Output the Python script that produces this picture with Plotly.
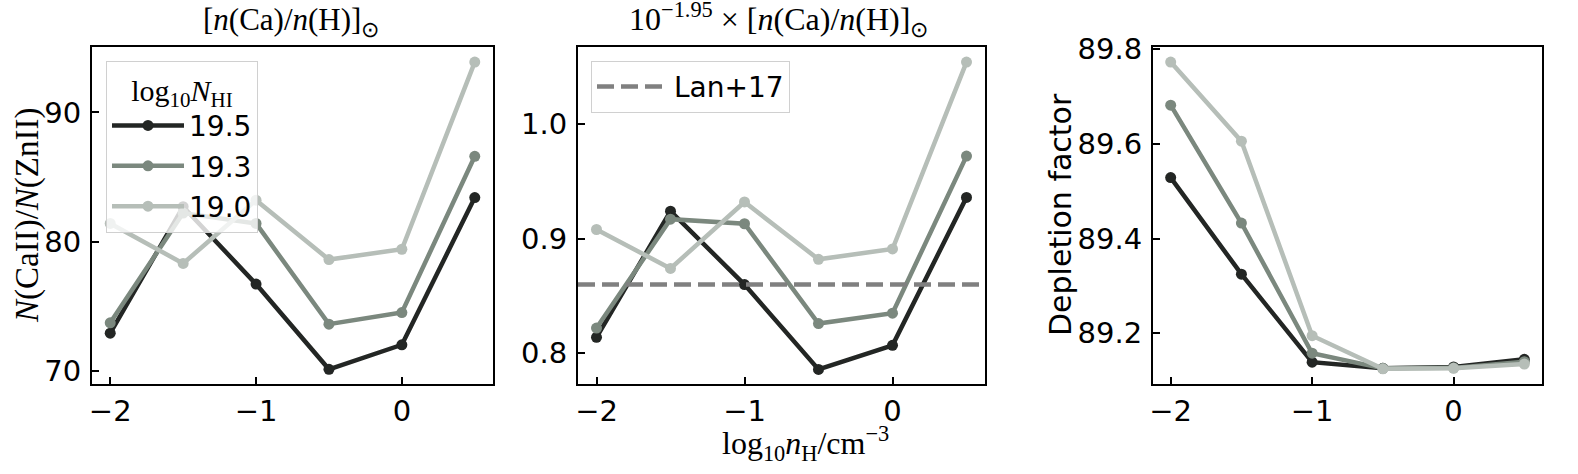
import plotly.graph_objects as go

# log10 n_H / cm^-3
log_nh = [-2.0, -1.5, -1.0, -0.5, 0.0, 0.5]

# log10 N_HI series labels
nhi_labels = ["19.5", "19.3", "19.0"]
nhi_colors = ["#232624", "#7b887e", "#b6beb8"]

# N(CaII)/N(ZnII) with solar Ca abundance
ratio_solar = [
    [72.9, 82.7, 76.7, 70.1, 72.0, 83.4],
    [73.7, 82.2, 81.4, 73.6, 74.5, 86.6],
    [81.4, 78.3, 83.2, 78.6, 79.4, 93.9],
]

# N(CaII)/N(ZnII) with Ca abundance scaled by 10^-1.95
ratio_scaled = [
    [0.814, 0.924, 0.860, 0.786, 0.807, 0.936],
    [0.822, 0.917, 0.913, 0.826, 0.835, 0.972],
    [0.908, 0.874, 0.932, 0.882, 0.891, 1.054],
]

# depletion factor
depletion = [
    [89.529, 89.325, 89.139, 89.126, 89.129, 89.145],
    [89.682, 89.433, 89.158, 89.126, 89.127, 89.140],
    [89.773, 89.606, 89.195, 89.125, 89.126, 89.135],
]

lan17 = 0.86

W, H = 1578, 474
xrange_ = [-2.125, 0.625]

# panel frames in pixels (left, right), shared top/bottom
px_x = [(92, 493), (578, 985), (1153, 1542)]
top_px, bot_px = 46.7, 384.3


def fx(p):
    return p / W


def fy(p):
    return 1 - p / H


fig = go.Figure()

panels = [ratio_solar, ratio_scaled, depletion]
for k, data in enumerate(panels):
    ax = "" if k == 0 else str(k + 1)
    for i, lab in enumerate(nhi_labels):
        fig.add_trace(go.Scatter(
            x=log_nh, y=data[i], mode="lines+markers",
            name=lab, legendgroup=lab, showlegend=(k == 0),
            legend="legend",
            line=dict(color=nhi_colors[i], width=4.5),
            marker=dict(color=nhi_colors[i], size=11),
            xaxis="x" + ax, yaxis="y" + ax,
        ))

fig.add_trace(go.Scatter(
    x=xrange_, y=[lan17, lan17], mode="lines", name="Lan+17",
    line=dict(color="#808080", width=4.5, dash="17px,7px"),
    xaxis="x2", yaxis="y2", legend="legend2",
))

tick_font = dict(family="DejaVu Sans", size=29, color="black")
axis_common = dict(
    showline=True, linecolor="black", linewidth=2, mirror=True,
    ticks="inside", ticklen=7, tickwidth=2, tickcolor="black",
    showgrid=False, zeroline=False, tickfont=tick_font, automargin=False,
)

yranges = [[68.94, 95.09], [0.773, 1.0674], [89.0923, 89.8055]]
ydticks = [10, 0.1, 0.2]
yfmts = ["d", ".1f", ".1f"]

legend_font = dict(family="DejaVu Sans", size=28, color="black")

layout = dict(
    width=W, height=H,
    margin=dict(l=0, r=0, t=0, b=0, autoexpand=False),
    plot_bgcolor="white", paper_bgcolor="white",
    legend=dict(
        x=fx(106), y=fy(60.7), xanchor="left", yanchor="top",
        bgcolor="rgba(255,255,255,0.8)", bordercolor="#d0d0d0", borderwidth=1,
        font=legend_font, itemwidth=72, tracegroupgap=1,
        title=dict(text="log<sub>10</sub><i>N</i><sub>HI</sub>", side="top center",
                   font=dict(family="Liberation Serif", size=30, color="black")),
    ),
    legend2=dict(
        x=fx(591), y=fy(60.7), xanchor="left", yanchor="top",
        bgcolor="rgba(255,255,255,0.8)", bordercolor="#d0d0d0", borderwidth=1,
        font=legend_font, itemwidth=72,
    ),
)

for k in range(3):
    ax = "" if k == 0 else str(k + 1)
    layout["xaxis" + ax] = dict(
        axis_common, domain=[fx(px_x[k][0]), fx(px_x[k][1])],
        range=xrange_, dtick=1, tick0=0, anchor="y" + ax,
    )
    layout["yaxis" + ax] = dict(
        axis_common, domain=[fy(bot_px), fy(top_px)],
        range=yranges[k], dtick=ydticks[k], tick0=0, tickformat=yfmts[k],
        anchor="x" + ax, ticklabelstandoff=3,
    )

fig.update_layout(**layout)

math_font = dict(family="Liberation Serif", size=31, color="black")
sans_font = dict(family="DejaVu Sans", size=30, color="black")

annotations = [
    dict(text="[<i>n</i>(Ca)/<i>n</i>(H)]<sub>⊙</sub>", x=fx(291), y=fy(44),
         xanchor="center", yanchor="bottom", font=math_font),
    dict(text="10<sup>−1.95</sup> × [<i>n</i>(Ca)/<i>n</i>(H)]<sub>⊙</sub>", x=fx(778), y=fy(44),
         xanchor="center", yanchor="bottom", font=dict(math_font, size=32)),
    dict(text="<i>N</i>(CaII)/<i>N</i>(ZnII)", x=fx(27), y=fy(216), textangle=-90,
         xanchor="center", yanchor="middle", font=dict(math_font, size=33)),
    dict(text="Depletion factor", x=fx(1060), y=fy(215), textangle=-90,
         xanchor="center", yanchor="middle", font=sans_font),
    dict(text="log<sub>10</sub><i>n</i><sub>H</sub>/cm<sup>−3</sup>", x=fx(805), y=fy(443),
         xanchor="center", yanchor="middle", font=dict(math_font, size=32)),
]
for a in annotations:
    a.update(xref="paper", yref="paper", showarrow=False)
fig.update_layout(annotations=annotations)

# drop the page's default body margin so the figure sits at the window origin
fig.write_html("out.html", config={"displayModeBar": False},
               post_script="document.body.style.margin='0';")
